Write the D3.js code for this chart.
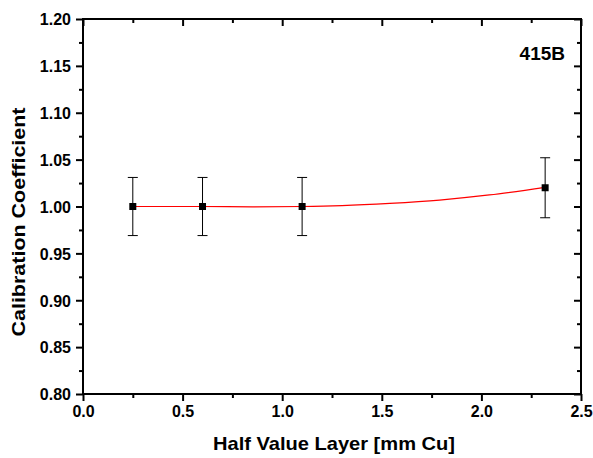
<!DOCTYPE html>
<html>
<head>
<meta charset="utf-8">
<script src="https://cdn.jsdelivr.net/npm/d3@7"></script>
<style>
  body { margin: 0; background: #fff; }
  text { font-family: "Liberation Sans", Arial, sans-serif; font-weight: bold; }
</style>
</head>
<body>
<div id="chart"></div>
<script>
// measured points
const hvl = [0.25, 0.6, 1.1, 2.32];
const coef = [1.00, 1.00, 1.00, 1.02];
const err = [0.031, 0.031, 0.031, 0.032];

// fitted curve
const fitX = [0.25, 0.6, 0.85, 1.1, 1.3, 1.54, 1.79, 2.04, 2.32];
const fitY = [1.000, 1.000, 0.9996, 1.000, 1.001, 1.0034, 1.0069, 1.0123, 1.0205];

const xTicks = [0.0, 0.5, 1.0, 1.5, 2.0, 2.5];
const yTicks = [0.80, 0.85, 0.90, 0.95, 1.00, 1.05, 1.10, 1.15, 1.20];

const largura = 593, altura = 458;
const margem = { top: 19, right: 12, bottom: 64, left: 83 };

const svg = d3.select("#chart").append("svg")
  .attr("width", largura)
  .attr("height", altura);

const x = d3.scaleLinear().domain([0, 2.5]).range([margem.left, largura - margem.right]);
const y = d3.scaleLinear().domain([0.8, 1.2]).range([altura - margem.bottom, margem.top]);

const xMinor = d3.range(0.25, 2.5, 0.5);
const yMinor = d3.range(0.825, 1.2, 0.05);

function styleAxis(g) {
  g.select(".domain").remove();
  g.selectAll(".tick line").attr("stroke", "#000").attr("stroke-width", 2);
  g.selectAll(".tick text").style("font-size", "16px").attr("fill", "#000");
}

// bottom axis
svg.append("g")
  .attr("transform", `translate(0,${y(0.8)})`)
  .call(d3.axisBottom(x).tickValues(xTicks).tickFormat(d3.format(".1f")).tickSize(7).tickPadding(5))
  .call(styleAxis);
svg.append("g")
  .attr("transform", `translate(0,${y(0.8)})`)
  .call(d3.axisBottom(x).tickValues(xMinor).tickFormat("").tickSize(4))
  .call(styleAxis);

// left axis
svg.append("g")
  .attr("transform", `translate(${x(0)},0)`)
  .call(d3.axisLeft(y).tickValues(yTicks).tickFormat(d3.format(".2f")).tickSize(7).tickPadding(5))
  .call(styleAxis)
  .selectAll(".tick text").attr("dy", "0.36em");
svg.append("g")
  .attr("transform", `translate(${x(0)},0)`)
  .call(d3.axisLeft(y).tickValues(yMinor).tickFormat("").tickSize(4))
  .call(styleAxis);

// top axis, ticks inward
svg.append("g")
  .attr("transform", `translate(0,${y(1.2)})`)
  .call(d3.axisBottom(x).tickValues(xTicks).tickFormat("").tickSize(7))
  .call(styleAxis);
svg.append("g")
  .attr("transform", `translate(0,${y(1.2)})`)
  .call(d3.axisBottom(x).tickValues(xMinor).tickFormat("").tickSize(4))
  .call(styleAxis);

// right axis, ticks inward
svg.append("g")
  .attr("transform", `translate(${x(2.5)},0)`)
  .call(d3.axisLeft(y).tickValues(yTicks).tickFormat("").tickSize(7))
  .call(styleAxis);
svg.append("g")
  .attr("transform", `translate(${x(2.5)},0)`)
  .call(d3.axisLeft(y).tickValues(yMinor).tickFormat("").tickSize(4))
  .call(styleAxis);

// frame
svg.append("rect")
  .attr("x", x(0)).attr("y", y(1.2))
  .attr("width", x(2.5) - x(0)).attr("height", y(0.8) - y(1.2))
  .attr("fill", "none").attr("stroke", "#000").attr("stroke-width", 2);

// fit curve
const fit = fitX.map((v, i) => [v, fitY[i]]);
svg.append("path")
  .datum(fit)
  .attr("d", d3.line().x(d => x(d[0])).y(d => y(d[1])).curve(d3.curveMonotoneX))
  .attr("fill", "none")
  .attr("stroke", "#ff0000")
  .attr("stroke-width", 1.2);

// error bars
const pts = hvl.map((v, i) => ({ x: v, y: coef[i], e: err[i] }));
const eb = svg.selectAll(".eb").data(pts).enter().append("g").attr("class", "eb");
eb.append("line")
  .attr("x1", d => x(d.x)).attr("x2", d => x(d.x))
  .attr("y1", d => y(d.y + d.e)).attr("y2", d => y(d.y - d.e))
  .attr("stroke", "#000").attr("stroke-width", 1);
eb.append("line")
  .attr("x1", d => x(d.x) - 5).attr("x2", d => x(d.x) + 5)
  .attr("y1", d => y(d.y + d.e)).attr("y2", d => y(d.y + d.e))
  .attr("stroke", "#000").attr("stroke-width", 1);
eb.append("line")
  .attr("x1", d => x(d.x) - 5).attr("x2", d => x(d.x) + 5)
  .attr("y1", d => y(d.y - d.e)).attr("y2", d => y(d.y - d.e))
  .attr("stroke", "#000").attr("stroke-width", 1);

// markers
svg.selectAll(".pt").data(pts).enter().append("rect")
  .attr("x", d => x(d.x) - 3.5).attr("y", d => y(d.y) - 3.5)
  .attr("width", 7).attr("height", 7)
  .attr("fill", "#000");

// label
svg.append("text")
  .attr("x", 565).attr("y", 60)
  .attr("text-anchor", "end")
  .style("font-size", "19px")
  .text("415B");

// axis titles
svg.append("text")
  .attr("x", 334).attr("y", 450)
  .attr("text-anchor", "middle")
  .attr("textLength", 242)
  .attr("lengthAdjust", "spacingAndGlyphs")
  .style("font-size", "19px")
  .text("Half Value Layer [mm Cu]");

svg.append("text")
  .attr("transform", "translate(25,222) rotate(-90)")
  .attr("text-anchor", "middle")
  .attr("textLength", 229)
  .attr("lengthAdjust", "spacingAndGlyphs")
  .style("font-size", "19px")
  .text("Calibration Coefficient");
</script>
</body>
</html>
